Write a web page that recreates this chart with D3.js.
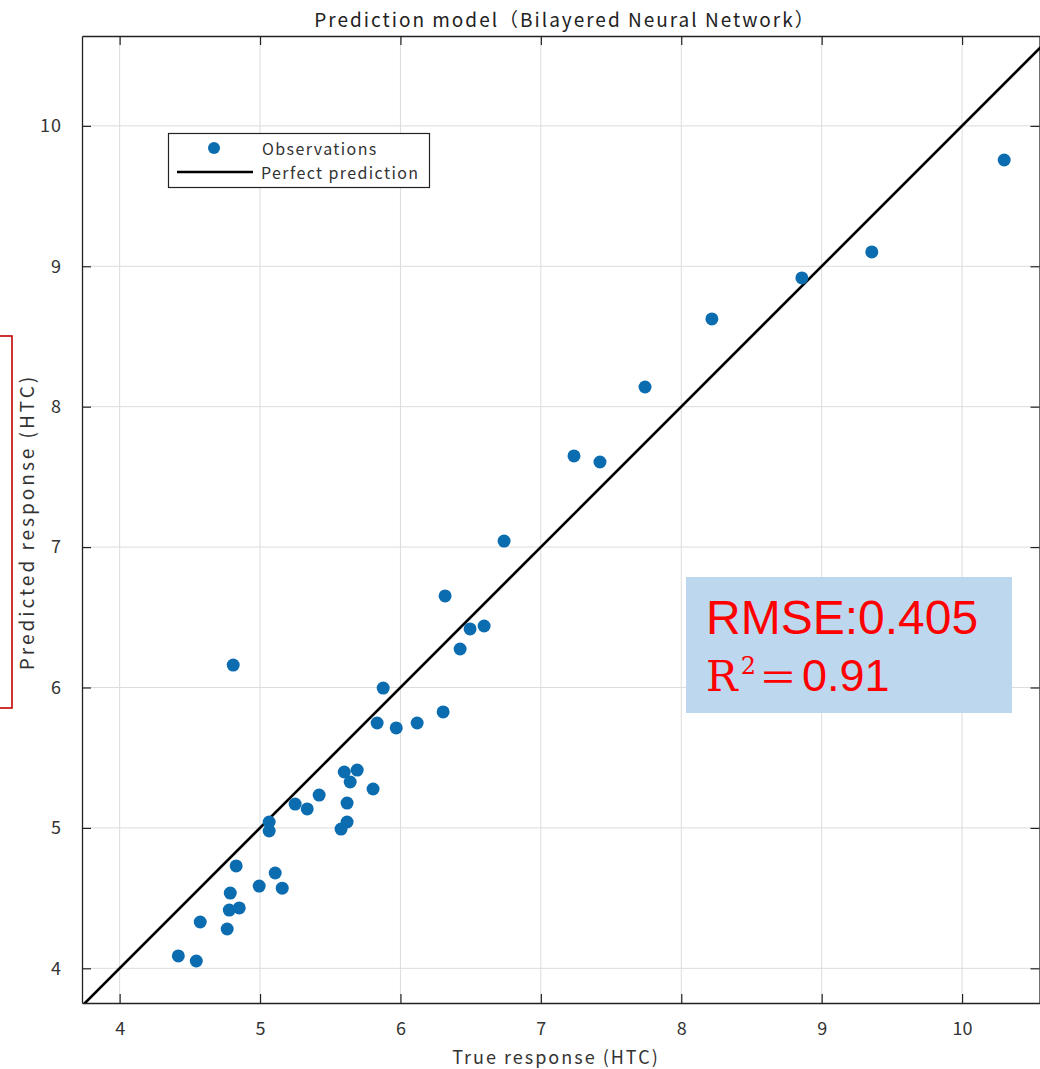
<!DOCTYPE html>
<html><head><meta charset="utf-8">
<script src="https://cdn.jsdelivr.net/npm/d3@7"></script>
<style>
html,body{margin:0;padding:0;background:#fff;}
svg{display:block;}
</style></head>
<body>
<svg id="c" width="1040" height="1069"></svg>
<script>
// ---- data ----
const trueResp = [10.30, 9.357, 8.859, 8.218, 7.742, 7.236, 7.421, 6.738, 6.318, 6.496, 6.596, 6.425, 4.809, 5.877, 5.834, 6.119, 5.970, 6.304, 5.692, 5.600, 5.642, 5.805, 5.421, 5.250, 5.336, 5.620, 5.065, 5.065, 5.620, 5.577, 4.830, 5.108, 4.994, 5.158, 4.788, 4.781, 4.852, 4.574, 4.766, 4.418, 4.546];
const predResp = [9.757, 9.102, 8.917, 8.625, 8.140, 7.649, 7.606, 7.043, 6.652, 6.417, 6.438, 6.274, 6.160, 5.996, 5.747, 5.747, 5.712, 5.826, 5.412, 5.398, 5.327, 5.277, 5.234, 5.170, 5.135, 5.177, 5.042, 4.978, 5.042, 4.992, 4.729, 4.679, 4.586, 4.571, 4.536, 4.415, 4.430, 4.330, 4.280, 4.088, 4.052];
const xTicks = [4, 5, 6, 7, 8, 9, 10];
const yTicks = [4, 5, 6, 7, 8, 9, 10];
const xDomain = [3.732, 10.555];
const yDomain = [3.753, 10.64];
const perfectLine = [3.6, 10.8];
const titleText = "Prediction model（Bilayered Neural Network）";
const xLabel = "True response (HTC)";
const yLabel = "Predicted response (HTC)";
const legendLabels = ["Observations", "Perfect prediction"];

// ---- layout ----
const L = 82, R = 1040, T = 36, B = 1003;
const svg = d3.select("#c");
const x = d3.scaleLinear().domain(xDomain).range([L, R]);
const y = d3.scaleLinear().domain(yDomain).range([B, T]);
const font = "'Noto Sans CJK JP', 'Noto Sans', sans-serif";
const tickCol = "#333";

svg.append("defs").append("clipPath").attr("id", "clip")
  .append("rect").attr("x", L).attr("y", T).attr("width", R - L).attr("height", B - T);

// grid
const grid = svg.append("g");
grid.selectAll("line.gx").data(xTicks).join("line")
  .attr("x1", d => x(d)).attr("x2", d => x(d)).attr("y1", T).attr("y2", B)
  .attr("stroke", "#dcdcdc").attr("stroke-width", 1);
grid.selectAll("line.gy").data(yTicks).join("line").attr("class","gy")
  .attr("y1", d => y(d)).attr("y2", d => y(d)).attr("x1", L).attr("x2", R)
  .attr("stroke", "#dcdcdc").attr("stroke-width", 1);

// axes with inward ticks
const tk = 9;
const axB = svg.append("g").attr("transform", `translate(0,${B})`)
  .call(d3.axisBottom(x).tickValues(xTicks).tickSizeInner(-tk).tickSizeOuter(0).tickPadding(19).tickFormat(d3.format("d")));
const axT = svg.append("g").attr("transform", `translate(0,${T})`)
  .call(d3.axisTop(x).tickValues(xTicks).tickSizeInner(-tk).tickSizeOuter(0).tickFormat(""));
const axL = svg.append("g").attr("transform", `translate(${L},0)`)
  .call(d3.axisLeft(y).tickValues(yTicks).tickSizeInner(-tk).tickSizeOuter(0).tickPadding(20).tickFormat(d3.format("d")));
const axR = svg.append("g").attr("transform", `translate(${R - 0.5},0)`)
  .call(d3.axisRight(y).tickValues(yTicks).tickSizeInner(-tk).tickSizeOuter(0).tickFormat(""));
[axB, axT, axL, axR].forEach(a => {
  a.select(".domain").attr("stroke", "#222").attr("stroke-width", 1.3);
  a.selectAll(".tick line").attr("stroke", "#222").attr("stroke-width", 1.2);
  a.selectAll("text").attr("font-family", font).attr("font-size", 18).attr("fill", tickCol);
});
axB.selectAll("text").attr("dy", "0.7em");
axL.selectAll("text").attr("letter-spacing", 1);

// perfect prediction line
svg.append("line").attr("clip-path", "url(#clip)")
  .attr("x1", x(perfectLine[0])).attr("y1", y(perfectLine[0]))
  .attr("x2", x(perfectLine[1])).attr("y2", y(perfectLine[1]))
  .attr("stroke", "#000").attr("stroke-width", 2.6);

// points
svg.append("g").attr("clip-path", "url(#clip)").selectAll("circle")
  .data(trueResp.map((t, i) => [t, predResp[i]])).join("circle")
  .attr("cx", d => x(d[0])).attr("cy", d => y(d[1])).attr("r", 6.5)
  .attr("fill", "#0B6DB0");

// title & labels
svg.append("text").attr("x", 565).attr("y", 27).attr("text-anchor", "middle")
  .attr("font-family", font).attr("font-size", 19).attr("letter-spacing", 2)
  .attr("fill", "#222").text(titleText);
svg.append("text").attr("x", 556).attr("y", 1064).attr("text-anchor", "middle")
  .attr("font-family", font).attr("font-size", 18).attr("letter-spacing", 2)
  .attr("fill", tickCol).text(xLabel);
svg.append("text").attr("transform", "translate(34,522) rotate(-90)").attr("text-anchor", "middle")
  .attr("font-family", font).attr("font-size", 19).attr("letter-spacing", 3)
  .attr("fill", tickCol).text(yLabel);

// legend
const lg = svg.append("g");
lg.append("rect").attr("x", 168.5).attr("y", 133.5).attr("width", 261).attr("height", 54)
  .attr("fill", "#fff").attr("stroke", "#222").attr("stroke-width", 1.2);
lg.append("circle").attr("cx", 214).attr("cy", 148).attr("r", 6).attr("fill", "#0B6DB0");
lg.append("line").attr("x1", 177).attr("x2", 253).attr("y1", 172).attr("y2", 172)
  .attr("stroke", "#000").attr("stroke-width", 2.6);
lg.append("text").attr("x", 262).attr("y", 155).attr("font-family", font).attr("font-size", 16)
  .attr("letter-spacing", 1.4).attr("fill", tickCol).text(legendLabels[0]);
lg.append("text").attr("x", 261).attr("y", 179).attr("font-family", font).attr("font-size", 16)
  .attr("letter-spacing", 1.4).attr("fill", tickCol).text(legendLabels[1]);

// red outline box at left
svg.append("rect").attr("x", -20).attr("y", 336).attr("width", 32).attr("height", 372)
  .attr("fill", "none").attr("stroke", "#C00000").attr("stroke-width", 1.6);

// metrics annotation
const an = svg.append("g");
an.append("rect").attr("x", 686).attr("y", 577).attr("width", 326).attr("height", 136).attr("fill", "#BDD7EE");
an.append("text").attr("x", 706).attr("y", 634).attr("font-family", "'Liberation Sans', Arial, sans-serif")
  .attr("font-size", 48).attr("fill", "#FF0000").text("RMSE:0.405");
const r2 = an.append("text").attr("x", 706).attr("y", 691).attr("fill", "#FF0000");
r2.append("tspan").attr("font-family", "'DejaVu Serif', serif").attr("font-size", 42).text("R");
r2.append("tspan").attr("font-family", "'DejaVu Serif', serif").attr("font-size", 24)
  .attr("dx", 3).attr("dy", -17).text("2");
r2.append("tspan").attr("font-family", "'Noto Sans CJK JP', sans-serif").attr("font-size", 38)
  .attr("dx", 3).attr("dy", 17).text("＝");
r2.append("tspan").attr("font-family", "'Liberation Sans', Arial, sans-serif").attr("font-size", 45)
  .attr("dx", 5).text("0.91");
</script>
</body></html>
